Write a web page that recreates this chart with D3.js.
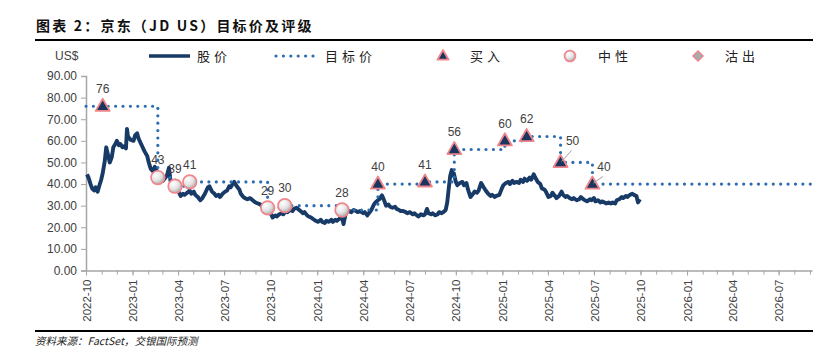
<!DOCTYPE html>
<html><head><meta charset="utf-8">
<script src="https://cdn.jsdelivr.net/npm/d3@7"></script>
<style>
html,body{margin:0;padding:0;background:#fff;}
svg{display:block;}
</style></head>
<body>
<svg id="chart" width="833" height="356"></svg>
<script>
// ---------- DATA ----------
const priceDates = [
"2022-10-03","2022-10-06","2022-10-10","2022-10-13","2022-10-17","2022-10-20","2022-10-24","2022-10-27","2022-10-31",
"2022-11-03","2022-11-07","2022-11-10","2022-11-14","2022-11-17","2022-11-21","2022-11-24","2022-11-28",
"2022-12-01","2022-12-05","2022-12-08","2022-12-12","2022-12-15","2022-12-19","2022-12-21","2022-12-23","2022-12-28",
"2023-01-03","2023-01-06","2023-01-10","2023-01-13","2023-01-17","2023-01-20","2023-01-25","2023-01-30",
"2023-02-02","2023-02-06","2023-02-10","2023-02-14","2023-02-17","2023-02-22","2023-02-27",
"2023-03-02","2023-03-07","2023-03-10","2023-03-14","2023-03-17","2023-03-21","2023-03-24","2023-03-29",
"2023-04-03","2023-04-06","2023-04-11","2023-04-14","2023-04-19","2023-04-24","2023-04-27",
"2023-05-02","2023-05-05","2023-05-10","2023-05-15","2023-05-19","2023-05-24","2023-05-30",
"2023-06-02","2023-06-07","2023-06-12","2023-06-15","2023-06-20","2023-06-23","2023-06-28",
"2023-07-03","2023-07-07","2023-07-11","2023-07-14","2023-07-18","2023-07-21","2023-07-26","2023-07-31",
"2023-08-03","2023-08-08","2023-08-11","2023-08-16","2023-08-21","2023-08-24","2023-08-29",
"2023-09-01","2023-09-06","2023-09-11","2023-09-14","2023-09-19","2023-09-22","2023-09-27",
"2023-10-02","2023-10-05","2023-10-10","2023-10-13","2023-10-18","2023-10-23","2023-10-26","2023-10-31",
"2023-11-03","2023-11-08","2023-11-13","2023-11-16","2023-11-21","2023-11-24","2023-11-29",
"2023-12-04","2023-12-07","2023-12-12","2023-12-15","2023-12-20","2023-12-26","2023-12-29",
"2024-01-03","2024-01-08","2024-01-11","2024-01-16","2024-01-19","2024-01-24","2024-01-29",
"2024-02-01","2024-02-06","2024-02-09","2024-02-14","2024-02-19","2024-02-22","2024-02-26","2024-02-29",
"2024-03-05","2024-03-08","2024-03-13","2024-03-18","2024-03-21","2024-03-26",
"2024-04-01","2024-04-04","2024-04-09","2024-04-12","2024-04-17","2024-04-22","2024-04-25","2024-04-30",
"2024-05-03","2024-05-08","2024-05-13","2024-05-16","2024-05-21","2024-05-24","2024-05-29",
"2024-06-03","2024-06-06","2024-06-11","2024-06-14","2024-06-19","2024-06-24","2024-06-27",
"2024-07-02","2024-07-08","2024-07-11","2024-07-16","2024-07-19","2024-07-24","2024-07-29",
"2024-08-01","2024-08-05","2024-08-08","2024-08-13","2024-08-16","2024-08-21","2024-08-26","2024-08-29",
"2024-09-03","2024-09-06","2024-09-11","2024-09-14","2024-09-17","2024-09-20","2024-09-23","2024-09-25","2024-09-27",
"2024-10-01","2024-10-04","2024-10-09","2024-10-14","2024-10-17","2024-10-22","2024-10-25","2024-10-30",
"2024-11-04","2024-11-07","2024-11-12","2024-11-15","2024-11-20","2024-11-25","2024-11-29",
"2024-12-04","2024-12-09","2024-12-12","2024-12-17","2024-12-20","2024-12-26","2024-12-31",
"2025-01-03","2025-01-08","2025-01-13","2025-01-16","2025-01-21","2025-01-24","2025-01-29",
"2025-02-03","2025-02-06","2025-02-11","2025-02-14","2025-02-19","2025-02-24","2025-02-27",
"2025-03-04","2025-03-07","2025-03-12","2025-03-17","2025-03-20","2025-03-25","2025-03-28",
"2025-04-02","2025-04-07","2025-04-10","2025-04-15","2025-04-18","2025-04-23","2025-04-28",
"2025-05-01","2025-05-06","2025-05-09","2025-05-14","2025-05-19","2025-05-22","2025-05-28",
"2025-06-02","2025-06-05","2025-06-10","2025-06-13","2025-06-18","2025-06-23","2025-06-26",
"2025-07-01","2025-07-04","2025-07-09","2025-07-14","2025-07-17","2025-07-22","2025-07-25","2025-07-30",
"2025-08-04","2025-08-07","2025-08-12","2025-08-15","2025-08-20","2025-08-25","2025-08-28",
"2025-09-02","2025-09-05","2025-09-10","2025-09-15","2025-09-18","2025-09-23","2025-09-26","2025-09-30"
];
const priceValues = [
44.5,43.0,40.0,38.0,37.0,38.5,36.5,39.0,42.0,
45.0,50.5,57.0,53.0,50.0,52.5,57.0,58.5,
60.0,58.0,58.5,57.0,57.5,56.5,65.5,62.0,60.5,
60.0,62.5,63.5,61.0,59.0,57.5,55.0,53.0,
50.0,47.0,46.0,48.0,46.5,44.0,42.0,
41.5,43.0,44.0,47.5,41.5,40.0,39.0,37.5,
36.0,34.5,35.5,35.0,36.0,37.0,35.5,
36.5,35.0,34.0,32.5,33.5,35.5,38.5,
39.0,36.5,35.5,34.5,35.0,34.0,35.5,
36.5,37.0,39.0,38.5,40.0,41.0,39.0,37.5,
35.5,34.0,33.5,33.0,33.5,33.0,32.0,
31.5,31.0,30.5,29.5,29.0,28.0,27.5,
26.0,24.5,25.5,25.0,26.0,26.5,26.0,27.5,
27.0,28.0,27.5,28.5,29.0,28.5,27.5,
26.5,27.0,25.5,25.0,24.5,23.5,23.0,
22.5,23.5,22.5,22.0,23.0,22.5,23.5,
22.5,23.5,23.0,24.0,24.5,21.5,26.0,27.0,
27.5,27.0,28.0,27.5,27.0,27.5,
26.5,27.0,25.5,26.5,28.0,30.5,31.5,32.5,
33.0,34.8,32.0,30.0,30.5,29.5,29.0,
29.5,28.5,28.0,27.5,27.5,27.0,26.5,
27.0,26.0,26.5,25.5,25.0,26.0,25.5,
26.0,28.5,26.5,26.0,26.5,25.5,26.0,27.0,
26.5,27.0,28.0,31.5,38.0,44.0,46.5,44.0,45.0,
41.0,39.5,40.5,41.0,39.5,40.5,37.5,34.0,
35.5,36.5,36.0,37.0,40.5,38.5,37.0,
35.5,34.5,35.0,34.0,34.5,35.0,38.0,
39.5,40.5,41.0,40.0,41.5,40.5,41.0,
40.5,42.0,41.0,42.5,41.5,43.0,42.0,
44.5,43.0,41.0,40.0,38.0,37.5,36.5,
34.0,34.5,36.0,34.5,33.5,34.5,36.5,
35.0,34.0,34.5,33.5,33.0,33.5,32.5,
33.0,34.0,33.0,32.5,32.0,33.0,32.5,
33.5,32.0,32.5,31.5,32.0,31.5,31.0,31.5,
31.0,31.5,31.0,32.5,33.0,34.0,33.5,
34.5,34.0,35.0,35.5,35.0,34.5,31.5,33.0
];

// rating events: date, rating, target price
const ratingDates   = ["2022-11-03","2023-02-20","2023-03-26","2023-04-24","2023-09-25","2023-10-29","2024-02-19","2024-04-30","2024-08-01","2024-09-28","2025-01-06","2025-02-18","2025-04-26","2025-06-28"];
const ratingTypes   = ["买入","中性","中性","中性","中性","中性","中性","买入","买入","买入","买入","买入","买入","买入"];
const ratingTargets = [76,43,39,41,29,30,28,40,41,56,60,62,50,40];

const targetStartDate = "2022-10-01";
const targetStartValue = 76;
const axisStart = "2022-10-01";
const axisEnd = "2026-09-05";

const yTicks = [0,10,20,30,40,50,60,70,80,90];
const xTickLabels = ["2022-10","2023-01","2023-04","2023-07","2023-10","2024-01","2024-04","2024-07","2024-10","2025-01","2025-04","2025-07","2025-10","2026-01","2026-04","2026-07"];

const titleText = "图表 2：京东（JD US）目标价及评级";
const sourceText = "资料来源：FactSet，交银国际预测";
const unitText = "US$";
const legendNames = ["股价","目标价","买入","中性","沽出"];

// ---------- DRAW ----------
const parse = d3.timeParse("%Y-%m-%d");
const svg = d3.select("#chart");
const cjk = "'Noto Sans CJK SC','Noto Sans',sans-serif";
const lat = "'Liberation Sans',Arial,sans-serif";

const navy = "#173a66", dotBlue = "#2b6cb3", pink = "#f0868c", axisGray = "#a6a6a6", txt = "#404040";

const x = d3.scaleTime().domain([parse(axisStart), parse(axisEnd)]).range([86, 812]);
const y = d3.scaleLinear().domain([0, 90]).range([270.5, 76]);

// defs
const defs = svg.append("defs");
const rg = defs.append("radialGradient").attr("id","neu").attr("cx","35%").attr("cy","30%").attr("r","75%");
rg.append("stop").attr("offset","0%").attr("stop-color","#ffffff");
rg.append("stop").attr("offset","55%").attr("stop-color","#e4e4e4");
rg.append("stop").attr("offset","100%").attr("stop-color","#a9a9a9");

// title
svg.append("text").attr("x",36).attr("y",31).text(titleText)
  .attr("font-family",cjk).attr("font-weight","bold").attr("font-size",14).attr("letter-spacing","2.2px").attr("fill","#111");
svg.append("line").attr("x1",35).attr("x2",813).attr("y1",40).attr("y2",40).attr("stroke","#000").attr("stroke-width",2);
svg.append("line").attr("x1",35).attr("x2",813).attr("y1",331).attr("y2",331).attr("stroke","#000").attr("stroke-width",2);
svg.append("text").attr("x",35).attr("y",345).text(sourceText)
  .attr("font-family",cjk).attr("font-style","italic").attr("font-size",10.5).attr("fill","#222");

// unit
svg.append("text").attr("x",55).attr("y",60).text(unitText).attr("font-family",lat).attr("font-size",12).attr("fill",txt);

// axes
const yAxis = d3.axisLeft(y).tickValues(yTicks).tickSize(5).tickPadding(4).tickFormat(d3.format(".2f"));
const gy = svg.append("g").attr("transform","translate(86,0)").call(yAxis);
gy.select(".domain").attr("stroke",axisGray).attr("stroke-width",1.5);
gy.selectAll(".tick line").attr("stroke",axisGray);
gy.selectAll(".tick text").attr("font-family",lat).attr("font-size",12).attr("fill",txt);

const xMajor = xTickLabels.map(s => parse(s + "-01"));
const xMinor = d3.timeMonth.range(parse(axisStart), parse(axisEnd));
const gxMinor = svg.append("g").attr("transform","translate(0,270.5)")
  .call(d3.axisBottom(x).tickValues(xMinor).tickSize(4).tickFormat(""));
gxMinor.select(".domain").remove();
gxMinor.selectAll(".tick line").attr("stroke",axisGray);
const gx = svg.append("g").attr("transform","translate(0,270.5)")
  .call(d3.axisBottom(x).tickValues(xMajor).tickSize(5).tickSizeOuter(0).tickFormat((d,i)=>xTickLabels[i]));
gx.select(".domain").attr("stroke",axisGray).attr("stroke-width",1.5);
gx.selectAll(".tick line").attr("stroke",axisGray);
gx.selectAll(".tick text")
  .attr("font-family",lat).attr("font-size",11.5).attr("fill",txt)
  .attr("text-anchor","end").attr("transform","rotate(-90)")
  .attr("x",-9).attr("y",0).attr("dy","0.36em");

// price line
const price = priceDates.map((d,i)=>({date:parse(d), v:priceValues[i]}));
svg.append("path").datum(price)
  .attr("d", d3.line().x(d=>x(d.date)).y(d=>y(d.v)))
  .attr("fill","none").attr("stroke",navy).attr("stroke-width",3.9).attr("stroke-linejoin","round");

// target step line
const target = [{date:parse(targetStartDate), v:targetStartValue}]
  .concat(ratingDates.map((d,i)=>({date:parse(d), v:ratingTargets[i]})))
  .concat([{date:parse(axisEnd), v:ratingTargets[ratingTargets.length-1]}]);
svg.append("path").datum(target)
  .attr("d", d3.line().curve(d3.curveStepAfter).x(d=>x(d.date)).y(d=>y(d.v)))
  .attr("fill","none").attr("stroke",dotBlue).attr("stroke-width",3.2)
  .attr("stroke-linecap","round").attr("stroke-dasharray","0 7.4");

// markers
function triPath(cx, cy, s){ const h=s*0.87; return `M${cx},${cy-h*0.62}L${cx+s/2},${cy+h*0.38}L${cx-s/2},${cy+h*0.38}Z`; }
function drawMarker(g, type, cx, cy, scale){
  if(type==="买入"){
    g.append("path").attr("d",triPath(cx,cy,14*scale)).attr("fill","#1a355e").attr("stroke",pink).attr("stroke-width",1.8).attr("stroke-linejoin","round");
  } else if(type==="中性"){
    g.append("circle").attr("cx",cx).attr("cy",cy).attr("r",6.8*scale).attr("fill","url(#neu)").attr("stroke",pink).attr("stroke-width",1.7);
  } else {
    const r=5.5*scale;
    g.append("path").attr("d",`M${cx},${cy-r}L${cx+r},${cy}L${cx},${cy+r}L${cx-r},${cy}Z`).attr("fill","#9db1b5").attr("stroke",pink).attr("stroke-width",1.6);
  }
}
const gm = svg.append("g");
const gl = svg.append("g");
const nudge = {12:[12,-22], 13:[11.5,-17.5]}; // leader-lined labels
ratingDates.forEach((d,i)=>{
  const cx = x(parse(d)), cy = y(ratingTargets[i]);
  drawMarker(gm, ratingTypes[i], cx, cy, 1);
  let lx = cx, ly = cy - 17.5;
  if(nudge[i]){
    lx = cx + nudge[i][0]; ly = cy + nudge[i][1];
    gl.append("line").attr("x1",cx+1).attr("y1",cy-1).attr("x2",lx-1).attr("y2",ly+10)
      .attr("stroke","#a0a0a0").attr("stroke-width",1);
  }
  gl.append("text").attr("x",lx).attr("y",ly).attr("dy","0.36em").attr("text-anchor","middle")
    .text(ratingTargets[i]).attr("font-family",lat).attr("font-size",12).attr("fill",txt);
});

// legend
const lg = svg.append("g");
const legY = 56;
lg.append("line").attr("x1",149).attr("x2",190).attr("y1",legY).attr("y2",legY).attr("stroke",navy).attr("stroke-width",3.6);
lg.append("line").attr("x1",276).attr("x2",318).attr("y1",legY).attr("y2",legY).attr("stroke",dotBlue).attr("stroke-width",3.2)
  .attr("stroke-linecap","round").attr("stroke-dasharray","0 7.4");
drawMarker(lg,"买入",443,legY,0.8);
drawMarker(lg,"中性",570,legY,0.8);
drawMarker(lg,"沽出",698,legY,0.9);
const legX = [197,325,470,598,725];
legendNames.forEach((n,i)=>{
  lg.append("text").attr("x",legX[i]).attr("y",legY).attr("dy","0.38em").text(n)
    .attr("font-family",cjk).attr("font-size",13).attr("letter-spacing","4px").attr("fill","#222");
});
</script>
</body></html>
